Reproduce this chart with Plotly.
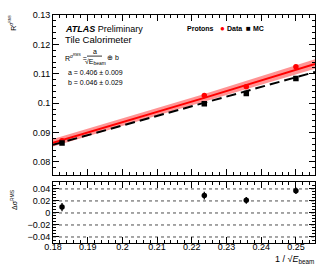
import plotly.graph_objects as go

# ---- data ----
inv_sqrt_e = [0.1826, 0.2236, 0.2357, 0.2500]
data_res = [0.0872, 0.1026, 0.1056, 0.1124]
mc_res = [0.0864, 0.0998, 0.1033, 0.1084]
fit_x = [0.18, 0.2236, 0.2555]
fit_y = [0.0865, 0.1018, 0.1133]
fit_err = [0.0013, 0.0013, 0.0016]
mc_line_x = [0.18, 0.2555]
mc_line_y = [0.0858, 0.1106]
delta = [0.0098, 0.029, 0.021, 0.037]
delta_err = [0.0068, 0.0065, 0.0055, 0.0055]
x_ticks = [0.18, 0.19, 0.2, 0.21, 0.22, 0.23, 0.24, 0.25]
y_ticks_top = [0.08, 0.09, 0.1, 0.11, 0.12, 0.13]
y_ticks_bot = [-0.04, -0.02, 0, 0.02, 0.04]

W, H = 332, 271
L, R, T, B = 53, 17, 10, 28
PW, PH = W - L - R, H - T - B

def px(x):
    return (x - L) / PW

def py(y):
    return (H - B - y) / PH

FONT = "Liberation Sans, Arial, sans-serif"

fig = go.Figure()

band_lo = [y - e for y, e in zip(fit_y, fit_err)]
band_hi = [y + e for y, e in zip(fit_y, fit_err)]
fig.add_trace(go.Scatter(x=fit_x, y=band_lo, mode="lines", line=dict(width=0),
                         showlegend=False, hoverinfo="skip", xaxis="x2", yaxis="y2"))
fig.add_trace(go.Scatter(x=fit_x, y=band_hi, mode="lines", line=dict(width=0),
                         fill="tonexty", fillcolor="rgba(255,60,60,0.55)",
                         showlegend=False, hoverinfo="skip", xaxis="x2", yaxis="y2"))
fig.add_trace(go.Scatter(x=fit_x, y=fit_y, mode="lines", line=dict(color="red", width=2),
                         showlegend=False, xaxis="x2", yaxis="y2"))
fig.add_trace(go.Scatter(x=mc_line_x, y=mc_line_y, mode="lines",
                         line=dict(color="black", width=2, dash="10px,5px"),
                         showlegend=False, xaxis="x2", yaxis="y2"))
fig.add_trace(go.Scatter(x=inv_sqrt_e, y=data_res, mode="markers",
                         marker=dict(color="red", size=5.5, symbol="circle"),
                         name="Data", showlegend=False, xaxis="x2", yaxis="y2"))
fig.add_trace(go.Scatter(x=inv_sqrt_e, y=mc_res, mode="markers",
                         marker=dict(color="black", size=5.5, symbol="square"),
                         name="MC", showlegend=False, xaxis="x2", yaxis="y2"))

fig.add_trace(go.Scatter(x=inv_sqrt_e, y=delta, mode="markers",
                         marker=dict(color="black", size=5.5),
                         error_y=dict(type="data", array=delta_err, color="black",
                                      thickness=1.3, width=0),
                         showlegend=False, xaxis="x", yaxis="y"))

for v in y_ticks_bot:
    fig.add_shape(type="line", xref="x domain", yref="y", x0=0, x1=1, y0=v, y1=v,
                  line=dict(color="black", width=0.7, dash="dot"), layer="below")

axis_common = dict(showline=True, linecolor="black", linewidth=1, mirror="ticks",
                   ticks="inside", ticklen=6, tickcolor="black", showgrid=False,
                   zeroline=False, ticklabeloverflow="allow",
                   tickfont=dict(family=FONT, size=9, color="black"))

fig.update_layout(
    width=W, height=H, margin=dict(l=L, r=R, t=T, b=B),
    paper_bgcolor="white", plot_bgcolor="white",
    xaxis=dict(domain=[0, 1], range=[0.18, 0.2555], tickvals=x_ticks,
               ticktext=["0.18", "0.19", "0.2", "0.21", "0.22", "0.23", "0.24", "0.25"],
               minor=dict(dtick=0.002, ticks="inside", ticklen=3, tickcolor="black"),
               ticklabelstandoff=-5, anchor="y", **axis_common),
    yaxis=dict(domain=[0, py(181)], range=[-0.05, 0.051], tickvals=y_ticks_bot,
               ticktext=["\u22120.04", "\u22120.02", "0", "0.02", "0.04"],
               minor=dict(dtick=0.005, ticks="inside", ticklen=3, tickcolor="black"),
               anchor="x", **axis_common),
    xaxis2=dict(domain=[0, 1], range=[0.18, 0.2555], tickvals=x_ticks,
                showticklabels=False,
                minor=dict(dtick=0.002, ticks="inside", ticklen=3, tickcolor="black"),
                anchor="y2", **axis_common),
    yaxis2=dict(domain=[py(173), 1], range=[0.0757, 0.13], tickvals=y_ticks_top,
                ticktext=["0.08", "0.09", "0.1", "0.11", "0.12", "0.13"],
                minor=dict(dtick=0.002, ticks="inside", ticklen=3, tickcolor="black"),
                anchor="x2", **axis_common),
)

def ann(text, x, y, size=8, xanchor="left", color="black", angle=0, yanchor="middle"):
    fig.add_annotation(text=text, x=px(x), y=py(y), xref="paper", yref="paper",
                       showarrow=False, xanchor=xanchor, yanchor=yanchor,
                       textangle=angle, font=dict(family=FONT, size=size, color=color))

ann("<b><i>ATLAS</i></b> Preliminary", 63, 24, size=9)
ann("Tile Calorimeter", 63, 35, size=9.5)
ann("R<sup>\u03c3<sup>RMS</sup></sup> =", 63, 53, size=7)
ann("a", 95, 47, size=7, xanchor="center")
fig.add_shape(type="line", xref="paper", yref="paper", x0=px(87), x1=px(102),
              y0=py(52), y1=py(52), line=dict(color="black", width=0.8))
ann("\u221aE<sub>beam</sub>", 95, 58, size=7, xanchor="center")
ann("\u2295 b", 105, 53, size=7)
ann("a = 0.406 \u00b1 0.009", 66, 69, size=7)
ann("b = 0.046 \u00b1 0.029", 66, 79, size=7)

ann("<b>Protons</b>", 185, 24, size=7)
ann("\u25cf", 222, 24, size=8, xanchor="center", color="red")
ann("<b>Data</b>", 225, 24, size=7)
ann("\u25a0", 248, 24, size=8, xanchor="center")
ann("<b>MC</b>", 251, 24, size=7)

ann("R<sup>\u03c3<sup>RMS</sup></sup>", 13, 18, size=7, xanchor="center", angle=-90)
ann("\u0394\u03c3<sup>RMS</sup>", 14, 199, size=7, xanchor="center", angle=-90)
ann("1 / \u221a<i>E</i><sub>beam</sub>", 316, 260, size=9, xanchor="right")

fig.write_html("out.html", config={"displayModeBar": False},
               post_script="document.body.style.margin='0';document.body.style.overflow='hidden';")
